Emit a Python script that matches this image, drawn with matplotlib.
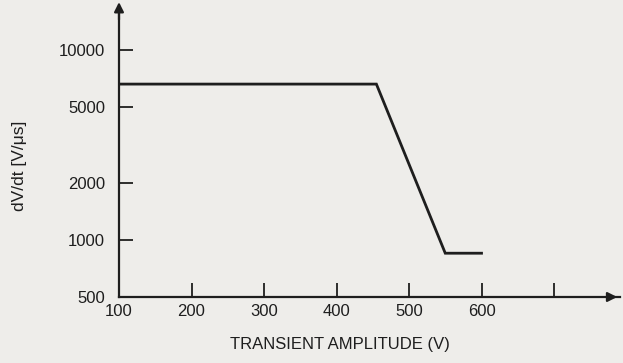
import matplotlib
matplotlib.use("Agg")
import matplotlib.pyplot as plt
from matplotlib.ticker import FixedLocator, NullLocator

# Data
amplitude_v = [100, 455, 550, 600]
dvdt = [6600, 6600, 850, 850]
x_ticks = [100, 200, 300, 400, 500, 600, 700]
x_tick_labels = ["100", "200", "300", "400", "500", "600", ""]
y_ticks = [500, 1000, 2000, 5000, 10000]
y_tick_labels = ["500", "1000", "2000", "5000", "10000"]

bg = "#eeedea"
ink = "#1e1e1e"
plt.rcParams['font.family'] = ['Liberation Sans', 'DejaVu Sans']

fig = plt.figure(figsize=(6.23, 3.63), dpi=100, facecolor=bg)
ax = fig.add_axes([119/623, 66/363, (620-119)/623, (297-8)/363])
ax.set_facecolor(bg)
ax.set_yscale('log')
ax.set_xlim(100, 791)
ax.set_ylim(500, 500 * 10 ** ((297 - 8) / 190))

ax.plot(amplitude_v, dvdt, color=ink, lw=2.0, solid_joinstyle='miter')

for s in ['top', 'right']:
    ax.spines[s].set_visible(False)
for s in ['left', 'bottom']:
    ax.spines[s].set_linewidth(1.6)
    ax.spines[s].set_color(ink)

ax.xaxis.set_major_locator(FixedLocator(x_ticks))
ax.set_xticklabels(x_tick_labels)
ax.yaxis.set_major_locator(FixedLocator(y_ticks))
ax.yaxis.set_minor_locator(NullLocator())
ax.set_yticklabels(y_tick_labels)
ax.tick_params(axis='both', direction='in', length=10, width=1.3, color=ink,
               labelsize=12, labelcolor=ink)
ax.tick_params(axis='x', pad=5)
ax.tick_params(axis='y', pad=10)
# hide ticks at the axis origin
ax.xaxis.get_major_ticks()[0].tick1line.set_visible(False)
ax.yaxis.get_major_ticks()[0].tick1line.set_visible(False)

# arrows
ax.annotate('', xy=(1.0, 0), xycoords='axes fraction', xytext=(0.97, 0),
            arrowprops=dict(arrowstyle='-|>', color=ink, lw=1.6, mutation_scale=14))
ax.annotate('', xy=(0, 1.03), xycoords='axes fraction', xytext=(0, 0.95),
            arrowprops=dict(arrowstyle='-|>', color=ink, lw=1.6, mutation_scale=14),
            annotation_clip=False)

ax.set_xlabel('TRANSIENT AMPLITUDE (V)', fontsize=12, color=ink, labelpad=12)
ax.xaxis.set_label_coords(0.44, -0.14)
ax.xaxis.label.set_va('top')
fig.text(20/623, 1 - 166/363, 'dV/dt [V/μs]', rotation=90, ha='center', va='center',
         fontsize=12.5, color=ink)

fig.savefig('out.png', dpi=100, facecolor=bg)
